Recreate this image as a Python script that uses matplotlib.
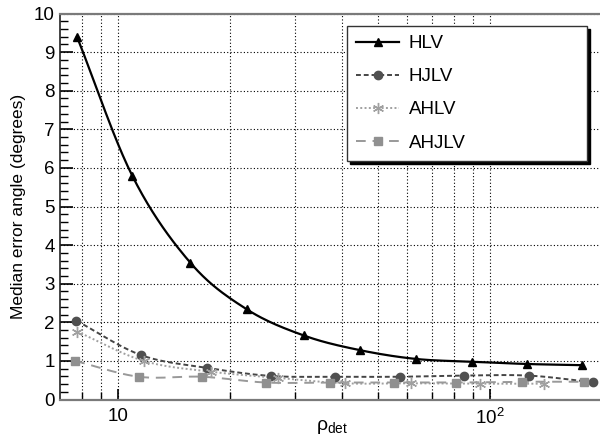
import numpy as np
import matplotlib
matplotlib.use('Agg')
import matplotlib.pyplot as plt
from matplotlib.ticker import FixedLocator, FixedFormatter, MultipleLocator, NullFormatter

plt.rcParams['font.family'] = ['Liberation Sans', 'DejaVu Sans']
plt.rcParams['mathtext.fontset'] = 'custom'
plt.rcParams['mathtext.rm'] = 'Liberation Sans'
plt.rcParams['mathtext.it'] = 'Liberation Sans'
plt.rcParams['mathtext.default'] = 'regular'

# median error angle vs detector SNR for each network
hlv_rho = [7.76, 10.93, 15.66, 22.17, 31.57, 44.67, 63.48, 89.6, 126.3, 176.6]
hlv_err = [9.39, 5.79, 3.54, 2.34, 1.66, 1.28, 1.05, 0.98, 0.92, 0.89]

hjlv_rho = [7.73, 11.54, 17.37, 25.8, 38.3, 57.3, 85.1, 127.3, 189.0]
hjlv_err = [2.04, 1.15, 0.82, 0.61, 0.59, 0.59, 0.62, 0.62, 0.45]

ahlv_rho = [7.76, 11.73, 17.8, 26.9, 40.7, 61.3, 93.9, 140.0]
ahlv_err = [1.76, 1.00, 0.72, 0.56, 0.42, 0.42, 0.41, 0.41]

ahjlv_rho = [7.67, 11.37, 16.83, 25.0, 37.1, 55.2, 81.2, 121.8, 179.5]
ahjlv_err = [1.00, 0.59, 0.59, 0.44, 0.44, 0.44, 0.44, 0.46, 0.46]

labels = ['HLV', 'HJLV', 'AHLV', 'AHJLV']


def smooth(x, y, n=24):
    # Catmull-Rom curve through the points, built in log10(x)
    lx = np.log10(np.asarray(x, float))
    y = np.asarray(y, float)
    px = np.concatenate([[2 * lx[0] - lx[1]], lx, [2 * lx[-1] - lx[-2]]])
    py = np.concatenate([[2 * y[0] - y[1]], y, [2 * y[-1] - y[-2]]])
    t = np.linspace(0, 1, n)[:-1]
    xs, ys = [], []
    for i in range(1, len(px) - 2):
        for p, out in ((px, xs), (py, ys)):
            p0, p1, p2, p3 = p[i - 1], p[i], p[i + 1], p[i + 2]
            out.append(0.5 * (2 * p1 + (-p0 + p2) * t
                              + (2 * p0 - 5 * p1 + 4 * p2 - p3) * t ** 2
                              + (-p0 + 3 * p1 - 3 * p2 + p3) * t ** 3))
    xs.append([lx[-1]])
    ys.append([y[-1]])
    return 10 ** np.concatenate(xs), np.concatenate(ys)


fig = plt.figure(figsize=(6, 4.4), dpi=100)
ax = fig.add_axes([0.1008, 0.092, 0.902, 0.8773])
ax.set_xscale('log')
ax.set_xlim(7, 200)
ax.set_ylim(0, 10)

styles = [
    dict(color='black', ls='-', lw=1.6, marker='^', ms=6, mc='black'),
    dict(color='#454545', ls=(0, (2.5, 1.5)), lw=1.4, marker='o', ms=6, mc='#505050'),
    dict(color='#a0a0a0', ls=(0, (1, 1.2)), lw=1.4, marker=(6, 2, 0), ms=8, mc='#a0a0a0'),
    dict(color='#999999', ls=(0, (5, 3.5)), lw=1.4, marker='s', ms=6, mc='#909090'),
]
series = [(hlv_rho, hlv_err), (hjlv_rho, hjlv_err), (ahlv_rho, ahlv_err), (ahjlv_rho, ahjlv_err)]

handles = []
for (xr, yr), st, lab in zip(series, styles, labels):
    sx, sy = smooth(xr, yr)
    ax.plot(sx, sy, color=st['color'], ls=st['ls'], lw=st['lw'], zorder=3)
    ax.plot(xr, yr, ls='none', marker=st['marker'], ms=st['ms'],
            color=st['mc'], mec=st['mc'], zorder=4)
    h, = ax.plot([], [], color=st['color'], ls=st['ls'], lw=st['lw'],
                 marker=st['marker'], ms=st['ms'], mfc=st['mc'], mec=st['mc'])
    handles.append(h)

# ticks and grid
ax.xaxis.set_major_locator(FixedLocator([10, 100]))
ax.xaxis.set_major_formatter(FixedFormatter(['10', '$10^2$']))
minor_x = [8, 9, 20, 30, 40, 50, 60, 70, 80, 90]
ax.xaxis.set_minor_locator(FixedLocator(minor_x))
ax.xaxis.set_minor_formatter(NullFormatter())
ax.yaxis.set_major_locator(MultipleLocator(1))
ax.yaxis.set_minor_locator(MultipleLocator(0.2))
ax.tick_params(which='both', direction='in', top=False, right=False,
               labelsize=13.5, color='black')
ax.tick_params(axis='y', which='major', length=9.5, width=1.2, pad=4)
ax.tick_params(axis='y', which='minor', length=5.8, width=1.0)
ax.tick_params(axis='x', which='major', length=8, width=1.2, pad=6)
ax.tick_params(axis='x', which='minor', length=5.5, width=1.0)

ax.grid(True, which='major', axis='both', color='black', ls=(0, (1, 2)), lw=0.8)
ax.grid(True, which='minor', axis='x', color='black', ls=(0, (1, 2)), lw=0.8)

for side in ('top', 'bottom'):
    ax.spines[side].set_color('#7a7a7a')
    ax.spines[side].set_linewidth(1.6)
ax.spines['left'].set_color('#222222')
ax.spines['left'].set_linewidth(1.2)
ax.spines['right'].set_visible(False)

ax.set_ylabel('Median error angle (degrees)', fontsize=12.5, labelpad=6)
fig.text(0.553, 0.008, r'$\rho_{det}$', fontsize=14, ha='center', va='bottom')

leg = ax.legend(handles, labels, loc='upper left',
                bbox_to_anchor=(0.529, 0.968, 0.444, 0.0), mode='expand',
                borderaxespad=0, numpoints=1,
                fontsize=13.5, handlelength=2.3, handletextpad=0.5,
                labelspacing=0.85, borderpad=0.5, fancybox=False,
                framealpha=1, edgecolor='#333333',
                shadow={'color': 'black', 'alpha': 1})
leg.get_frame().set_linewidth(1.0)

fig.savefig('out.png', dpi=100)
